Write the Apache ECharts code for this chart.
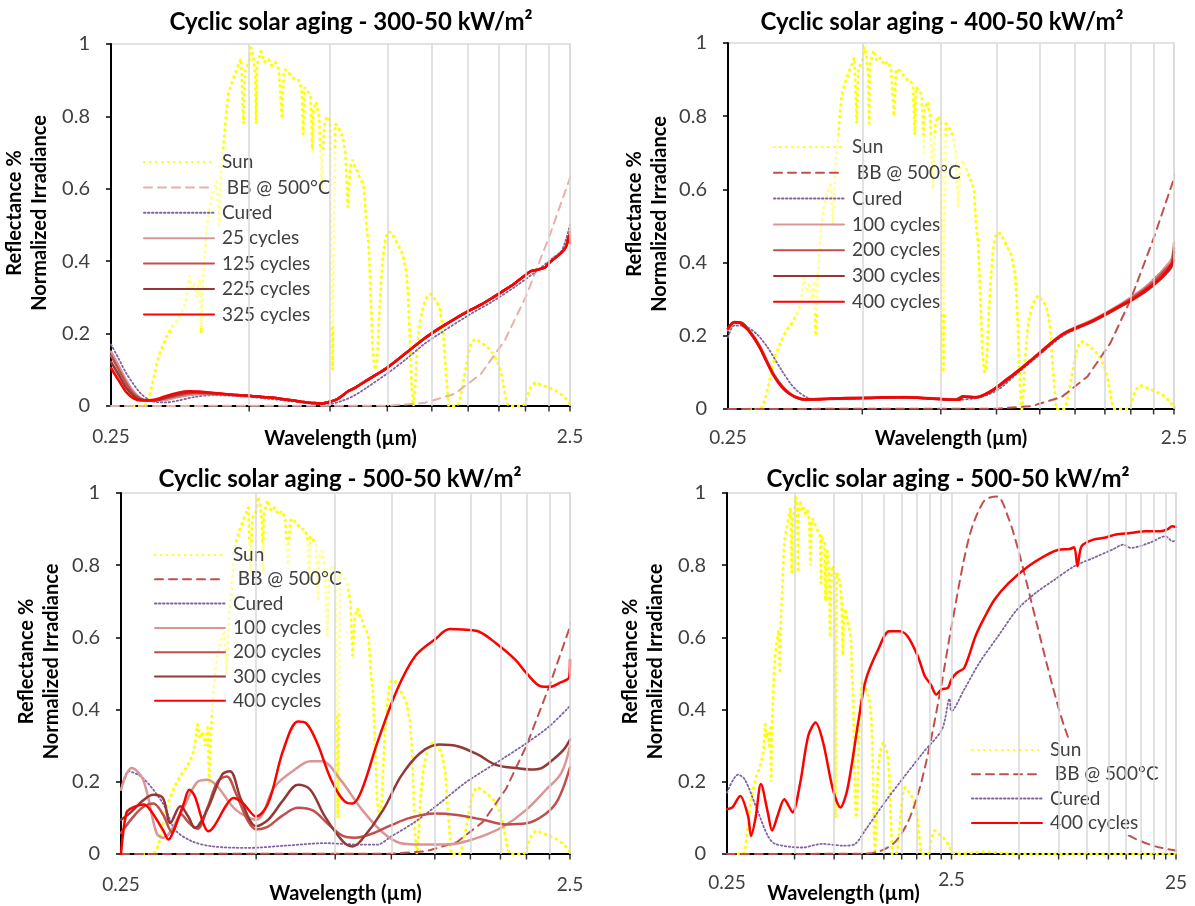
<!DOCTYPE html>
<html lang="en">
<head>
<meta charset="UTF-8">
<title>Cyclic solar aging</title>
<script src="https://cdn.jsdelivr.net/npm/echarts@6/dist/echarts.min.js"></script>
<style>
    html, body { margin: 0; background: #fff; }
    #main { width: 1195px; height: 906px; }
</style>
</head>
<body>
<div id="main"></div>
<script type="text/javascript">
// ---- data: [wavelength (um), value] ----
var sunData = [[0.28,0],[0.295,0],[0.30,0.01],[0.305,0.04],[0.31,0.08],[0.315,0.12],[0.32,0.15],[0.33,0.19],[0.34,0.22],[0.35,0.24],[0.36,0.27],[0.365,0.3],[0.37,0.36],[0.375,0.32],[0.38,0.34],[0.385,0.3],[0.39,0.35],[0.393,0.2],[0.397,0.35],[0.40,0.42],[0.405,0.5],[0.41,0.55],[0.415,0.58],[0.42,0.6],[0.425,0.62],[0.43,0.5],[0.435,0.66],[0.44,0.72],[0.445,0.8],[0.45,0.86],[0.46,0.9],[0.47,0.93],[0.48,0.96],[0.486,0.78],[0.49,0.93],[0.50,0.95],[0.505,0.99],[0.51,0.97],[0.515,0.92],[0.518,0.78],[0.52,0.94],[0.53,0.98],[0.54,0.95],[0.55,0.96],[0.56,0.94],[0.57,0.95],[0.58,0.93],[0.589,0.8],[0.595,0.92],[0.60,0.93],[0.61,0.92],[0.62,0.91],[0.63,0.9],[0.64,0.9],[0.65,0.88],[0.656,0.75],[0.66,0.88],[0.67,0.87],[0.68,0.86],[0.687,0.7],[0.69,0.82],[0.70,0.84],[0.71,0.8],[0.72,0.6],[0.725,0.72],[0.73,0.78],[0.74,0.8],[0.75,0.79],[0.76,0.1],[0.765,0.45],[0.77,0.78],[0.78,0.77],[0.79,0.76],[0.80,0.74],[0.81,0.7],[0.82,0.55],[0.83,0.66],[0.84,0.68],[0.85,0.66],[0.86,0.65],[0.87,0.63],[0.88,0.62],[0.89,0.6],[0.90,0.5],[0.91,0.45],[0.92,0.3],[0.93,0.15],[0.94,0.1],[0.95,0.12],[0.96,0.25],[0.97,0.35],[0.98,0.42],[0.99,0.46],[1.00,0.48],[1.02,0.48],[1.04,0.46],[1.06,0.44],[1.08,0.42],[1.10,0.37],[1.11,0.3],[1.12,0.18],[1.13,0.05],[1.14,0],[1.15,0.05],[1.16,0.14],[1.17,0.2],[1.18,0.24],[1.20,0.28],[1.22,0.3],[1.24,0.31],[1.26,0.3],[1.28,0.29],[1.30,0.27],[1.32,0.22],[1.34,0.1],[1.36,0],[1.42,0],[1.44,0.02],[1.46,0.06],[1.48,0.1],[1.50,0.14],[1.52,0.17],[1.55,0.185],[1.58,0.18],[1.62,0.17],[1.66,0.16],[1.70,0.145],[1.74,0.12],[1.77,0.09],[1.80,0.04],[1.82,0.01],[1.84,0],[1.97,0],[2.0,0.01],[2.03,0.04],[2.06,0.055],[2.1,0.065],[2.15,0.06],[2.2,0.055],[2.25,0.05],[2.3,0.045],[2.35,0.04],[2.4,0.03],[2.45,0.02],[2.5,0.005],[2.6,0],[3.0,0.002],[3.3,0.005],[3.6,0.006],[4.0,0.004],[4.5,0.001],[5,0],[25,0]];

var bbData = [[0.25,0],[1.0,0.001],[1.2,0.008],[1.4,0.033],[1.6,0.089],[1.8,0.18],[2.0,0.3],[2.25,0.466],[2.5,0.63],[3.0,0.879],[3.5,0.979],[4.0,0.99],[4.5,0.928],[5,0.834],[6,0.637],[7,0.472],[8,0.348],[10,0.194],[12,0.114],[15,0.056],[20,0.022],[25,0.01]];

// panel 1: 300-50 kW/m2
var p1Cured = [[0.25,0.17],[0.26,0.13],[0.27,0.09],[0.28,0.06],[0.29,0.035],[0.30,0.02],[0.31,0.012],[0.33,0.01],[0.35,0.015],[0.38,0.025],[0.42,0.03],[0.46,0.028],[0.5,0.025],[0.55,0.02],[0.6,0.015],[0.65,0.01],[0.7,0.006],[0.75,0.006],[0.8,0.015],[0.85,0.03],[0.9,0.05],[1.0,0.09],[1.1,0.13],[1.2,0.17],[1.3,0.2],[1.5,0.25],[1.7,0.29],[1.9,0.33],[2.1,0.37],[2.3,0.41],[2.4,0.43],[2.5,0.5]];
var p1Tail = [[0.46,0.031],[0.5,0.028],[0.55,0.024],[0.6,0.018],[0.65,0.012],[0.69,0.008],[0.72,0.007],[0.75,0.012],[0.78,0.02],[0.8,0.03],[0.82,0.04],[0.85,0.05],[0.9,0.07],[0.95,0.088],[1.0,0.106],[1.1,0.147],[1.2,0.185],[1.3,0.215],[1.4,0.24],[1.5,0.262],[1.6,0.28],[1.7,0.3],[1.8,0.32],[1.9,0.34],[2.0,0.362],[2.05,0.372],[2.1,0.375],[2.2,0.382],[2.25,0.395],[2.3,0.405],[2.4,0.425],[2.45,0.44],[2.49,0.47]];
var p1C25 = [[0.25,0.15],[0.26,0.11],[0.27,0.07],[0.28,0.04],[0.29,0.022],[0.30,0.015],[0.32,0.015],[0.35,0.025],[0.38,0.032],[0.42,0.033]].concat(p1Tail, [[2.5,0.49]]);
var p1C125 = [[0.25,0.14],[0.26,0.1],[0.27,0.062],[0.28,0.034],[0.29,0.02],[0.30,0.015],[0.32,0.018],[0.35,0.029],[0.38,0.036],[0.42,0.034]].concat(p1Tail, [[2.5,0.48]]);
var p1C225 = [[0.25,0.122],[0.26,0.085],[0.27,0.05],[0.28,0.028],[0.29,0.017],[0.31,0.015],[0.33,0.024],[0.35,0.033],[0.37,0.038],[0.39,0.038],[0.42,0.035]].concat(p1Tail, [[2.5,0.47]]);
var p1C325 = [[0.25,0.105],[0.26,0.07],[0.27,0.038],[0.28,0.021],[0.29,0.015],[0.31,0.017],[0.33,0.028],[0.35,0.037],[0.37,0.041],[0.39,0.04],[0.42,0.036]].concat(p1Tail, [[2.5,0.45]]);

// panel 2: 400-50 kW/m2
var p2Cured = [[0.25,0.196],[0.258,0.228],[0.27,0.228],[0.276,0.224],[0.29,0.205],[0.306,0.17],[0.33,0.105],[0.345,0.07],[0.357,0.05],[0.375,0.032],[0.39,0.027],[0.45,0.027],[0.55,0.03],[0.65,0.03],[0.8,0.025],[0.9,0.03],[1.0,0.05],[1.12,0.1],[1.24,0.145],[1.41,0.2],[1.65,0.24],[1.9,0.285],[2.14,0.33],[2.27,0.36],[2.4,0.385],[2.5,0.40]];
var p2C100 = [[0.25,0.215],[0.258,0.235],[0.268,0.235],[0.28,0.212],[0.294,0.175],[0.318,0.092],[0.344,0.043],[0.372,0.027],[0.42,0.029],[0.51,0.031],[0.62,0.033],[0.75,0.028],[0.81,0.026],[0.84,0.035],[0.9,0.033],[0.99,0.056],[1.12,0.106],[1.24,0.151],[1.41,0.207],[1.65,0.245],[1.9,0.287],[2.14,0.33],[2.27,0.357],[2.4,0.39],[2.47,0.41],[2.5,0.455]];
var p2C200 = [[0.25,0.218],[0.258,0.236],[0.268,0.235],[0.28,0.21],[0.294,0.172],[0.318,0.09],[0.344,0.042],[0.372,0.026],[0.42,0.028],[0.51,0.03],[0.62,0.032],[0.75,0.027],[0.81,0.025],[0.84,0.034],[0.9,0.032],[0.99,0.055],[1.12,0.105],[1.24,0.15],[1.41,0.205],[1.65,0.243],[1.9,0.284],[2.14,0.326],[2.27,0.352],[2.4,0.383],[2.47,0.4],[2.5,0.44]];
var p2C300 = [[0.25,0.22],[0.258,0.238],[0.268,0.236],[0.28,0.21],[0.294,0.17],[0.318,0.088],[0.344,0.041],[0.372,0.026],[0.42,0.027],[0.51,0.03],[0.62,0.032],[0.75,0.027],[0.81,0.025],[0.84,0.034],[0.9,0.032],[0.99,0.054],[1.12,0.104],[1.24,0.149],[1.41,0.204],[1.65,0.24],[1.9,0.28],[2.14,0.318],[2.27,0.342],[2.4,0.37],[2.47,0.39],[2.5,0.43]];
var p2C400 = [[0.25,0.22],[0.258,0.237],[0.265,0.236],[0.27,0.228],[0.28,0.21],[0.294,0.17],[0.305,0.13],[0.318,0.087],[0.33,0.06],[0.344,0.041],[0.36,0.03],[0.372,0.026],[0.4,0.026],[0.42,0.028],[0.46,0.03],[0.51,0.03],[0.56,0.032],[0.62,0.032],[0.68,0.03],[0.75,0.027],[0.81,0.025],[0.83,0.026],[0.84,0.034],[0.86,0.033],[0.9,0.032],[0.95,0.042],[0.99,0.055],[1.05,0.08],[1.12,0.105],[1.24,0.15],[1.41,0.205],[1.65,0.242],[1.9,0.283],[2.02,0.3],[2.14,0.322],[2.27,0.345],[2.4,0.375],[2.5,0.406]];

// panel 3: 500-50 kW/m2
var p3Cured = [[0.25,0.178],[0.26,0.229],[0.28,0.21],[0.31,0.14],[0.33,0.067],[0.36,0.035],[0.4,0.021],[0.48,0.017],[0.58,0.023],[0.71,0.03],[0.86,0.026],[0.93,0.026],[1.0,0.049],[1.12,0.086],[1.28,0.14],[1.46,0.197],[1.71,0.252],[2.0,0.307],[2.25,0.354],[2.5,0.41]];
var p3C100 = [[0.25,0.178],[0.264,0.238],[0.28,0.206],[0.30,0.058],[0.31,0.045],[0.34,0.114],[0.37,0.2],[0.39,0.206],[0.41,0.187],[0.45,0.123],[0.5,0.095],[0.55,0.187],[0.61,0.234],[0.66,0.257],[0.7,0.257],[0.77,0.206],[0.86,0.123],[0.96,0.058],[1.05,0.03],[1.16,0.026],[1.28,0.026],[1.41,0.03],[1.59,0.049],[1.78,0.077],[2.0,0.123],[2.21,0.178],[2.39,0.224],[2.5,0.3]];
var p3C200 = [[0.25,0.058],[0.265,0.1],[0.28,0.13],[0.295,0.14],[0.31,0.11],[0.325,0.06],[0.34,0.11],[0.355,0.085],[0.37,0.07],[0.39,0.13],[0.41,0.2],[0.43,0.215],[0.45,0.17],[0.48,0.09],[0.5,0.068],[0.53,0.075],[0.57,0.105],[0.62,0.128],[0.67,0.12],[0.72,0.085],[0.78,0.05],[0.83,0.045],[0.9,0.055],[1.0,0.08],[1.1,0.1],[1.25,0.112],[1.4,0.108],[1.6,0.095],[1.8,0.082],[2.0,0.085],[2.2,0.11],[2.35,0.15],[2.5,0.24]];
var p3C300 = [[0.25,0.095],[0.262,0.114],[0.281,0.15],[0.295,0.164],[0.31,0.155],[0.322,0.086],[0.339,0.132],[0.353,0.104],[0.365,0.072],[0.389,0.123],[0.42,0.22],[0.437,0.229],[0.463,0.15],[0.5,0.077],[0.532,0.095],[0.575,0.15],[0.62,0.192],[0.66,0.178],[0.711,0.104],[0.78,0.035],[0.82,0.021],[0.86,0.04],[0.96,0.123],[1.05,0.215],[1.16,0.28],[1.28,0.303],[1.41,0.298],[1.56,0.275],[1.71,0.247],[1.89,0.238],[2.04,0.234],[2.16,0.238],[2.29,0.261],[2.42,0.289],[2.5,0.317]];
var p3C400 = [[0.25,0],[0.257,0.114],[0.264,0.127],[0.281,0.137],[0.29,0.123],[0.31,0.067],[0.319,0.04],[0.328,0.067],[0.345,0.14],[0.355,0.178],[0.365,0.16],[0.381,0.086],[0.391,0.063],[0.403,0.077],[0.43,0.137],[0.445,0.155],[0.467,0.141],[0.5,0.104],[0.532,0.141],[0.575,0.289],[0.62,0.367],[0.645,0.363],[0.684,0.307],[0.74,0.197],[0.8,0.141],[0.82,0.14],[0.86,0.178],[0.93,0.307],[1.03,0.455],[1.13,0.548],[1.25,0.594],[1.35,0.623],[1.47,0.621],[1.56,0.617],[1.71,0.584],[1.89,0.538],[2.0,0.501],[2.16,0.464],[2.25,0.463],[2.39,0.476],[2.46,0.483],[2.49,0.49],[2.5,0.538]];

// panel 4: 500-50 kW/m2, 0.25-25 um
var p4Cured = [[0.25,0.17],[0.28,0.22],[0.3,0.207],[0.34,0.124],[0.38,0.05],[0.41,0.028],[0.54,0.018],[0.66,0.028],[0.83,0.023],[0.93,0.028],[1.04,0.069],[1.26,0.143],[1.53,0.212],[1.87,0.281],[2.27,0.346],[2.45,0.43],[2.5,0.396],[2.85,0.456],[3.33,0.53],[4.04,0.604],[4.9,0.677],[5.95,0.724],[7.2,0.76],[8.8,0.797],[10.7,0.82],[13,0.843],[14.6,0.857],[15.7,0.848],[19.1,0.862],[22.4,0.88],[24.2,0.866],[25,0.871]];
var p4C400 = [[0.25,0.124],[0.264,0.129],[0.286,0.161],[0.31,0.106],[0.32,0.05],[0.335,0.1],[0.354,0.194],[0.38,0.115],[0.397,0.065],[0.42,0.106],[0.45,0.152],[0.47,0.134],[0.49,0.115],[0.53,0.198],[0.575,0.327],[0.62,0.364],[0.67,0.309],[0.74,0.18],[0.8,0.129],[0.86,0.18],[0.97,0.382],[1.04,0.484],[1.18,0.567],[1.32,0.617],[1.47,0.617],[1.59,0.604],[1.77,0.548],[1.9,0.493],[2.02,0.47],[2.14,0.442],[2.26,0.456],[2.41,0.46],[2.5,0.484],[2.64,0.502],[2.85,0.516],[3.2,0.604],[3.47,0.65],[3.89,0.705],[4.5,0.751],[5.5,0.797],[6.7,0.83],[7.5,0.843],[8.4,0.845],[8.8,0.85],[9.1,0.797],[9.5,0.853],[10.7,0.871],[12,0.876],[13.5,0.885],[15.7,0.889],[18.3,0.894],[21.3,0.894],[23,0.9],[24,0.908],[25,0.906]];

// vertical grid lines and x tick labels
var gridLinesA = [0.5,0.75,1,1.25,1.5,1.75,2,2.25,2.5];
var gridLinesB = [0.5,0.75,1,1.25,1.5,1.75,2,2.25,2.5,5,7.5,10,12.5,15,17.5,20,22.5,25];
var xLabelsA = [0.25, 2.5];
var xLabelsB = [0.25, 25];
var xLabelsMid = [2.5];     // label in the middle of the wide axis, hung on its grid line

var titles = ['Cyclic solar aging - 300-50 kW/m²', 'Cyclic solar aging - 400-50 kW/m²',
              'Cyclic solar aging - 500-50 kW/m²', 'Cyclic solar aging - 500-50 kW/m²'];

var FONT = 'Lato, "Liberation Sans", sans-serif';
var cSun = '#FFFF00', cCured = '#8064A2';
var cLight = '#D99694', cMid = '#C0504D', cDark = '#953735', cRed = '#FF0000';

var myChart = echarts.init(document.getElementById('main'));

var grids = [
    {left: 111, top: 44, width: 459, height: 362},
    {left: 728, top: 43, width: 446, height: 366},
    {left: 121, top: 493, width: 449, height: 361},
    {left: 727, top: 493, width: 449, height: 361}
];
var titlePos = [[351, 22], [942, 22], [340, 479], [948, 479]];
var yNameGap = [59, 56, 57, 59];
var xNameGap = [23, 20, 30, 30];
var xLabelMargin = [21, 19, 21, 19];

function lineSeries(gi, key, label, data, color, dash, width, smooth) {
    return {
        name: key + '|' + label,
        type: 'line',
        xAxisIndex: gi,
        yAxisIndex: gi,
        data: data,
        symbol: 'none',
        showSymbol: false,
        smooth: smooth || false,
        animation: false,
        lineStyle: {color: color, width: width, type: dash, cap: 'round'},
        itemStyle: {color: color, opacity: 0},
        z: 3
    };
}

function gridLineSeries(gi, vals, labelled) {
    labelled = labelled || [];
    return {
        type: 'line',
        xAxisIndex: gi,
        yAxisIndex: gi,
        data: [],
        z: 1,
        silent: true,
        animation: false,
        markLine: {
            silent: true,
            animation: false,
            symbol: ['none', 'none'],
            label: {show: false},
            lineStyle: {color: '#d9d9d9', width: 1.5, type: 'solid'},
            data: vals.map(function (v) {
                var item = {xAxis: v};
                if (labelled.indexOf(v) >= 0) {
                    item.label = {show: true, position: 'start', formatter: String(v), distance: 16,
                                  fontSize: 19, color: '#404040', fontFamily: FONT};
                }
                return item;
            })
        }
    };
}

// small tick marks under the x axis at each grid line
function tickSeries(gi, vals) {
    return {
        type: 'scatter',
        xAxisIndex: gi,
        yAxisIndex: gi,
        data: vals.map(function (v) { return [v, 0]; }),
        symbol: 'rect',
        symbolSize: [1.5, 5],
        symbolOffset: [0, 3],
        itemStyle: {color: '#000'},
        clip: false,
        silent: true,
        animation: false,
        z: 5
    };
}

var SUN = [0.5, 5.5], DOT = [1.5, 2.5], DASH = [8, 6];

var series = [
    gridLineSeries(0, gridLinesA),
    tickSeries(0, gridLinesA),
    lineSeries(0, 'a', 'Sun', sunData, cSun, SUN, 3),
    lineSeries(0, 'a', ' BB @ 500°C', bbData, '#E6B0AC', DASH, 2),
    lineSeries(0, 'a', 'Cured', p1Cured, cCured, DOT, 1.8, 0.3),
    lineSeries(0, 'a', '25 cycles', p1C25, cLight, 'solid', 2.5, 0.3),
    lineSeries(0, 'a', '125 cycles', p1C125, cMid, 'solid', 2.5, 0.3),
    lineSeries(0, 'a', '225 cycles', p1C225, cDark, 'solid', 2.5, 0.3),
    lineSeries(0, 'a', '325 cycles', p1C325, cRed, 'solid', 2.5, 0.3),

    gridLineSeries(1, gridLinesA),
    tickSeries(1, gridLinesA),
    lineSeries(1, 'b', 'Sun', sunData, cSun, SUN, 3),
    lineSeries(1, 'b', ' BB @ 500°C', bbData, cMid, DASH, 2),
    lineSeries(1, 'b', 'Cured', p2Cured, cCured, DOT, 1.8, 0.3),
    lineSeries(1, 'b', '100 cycles', p2C100, cLight, 'solid', 2.5, 0.3),
    lineSeries(1, 'b', '200 cycles', p2C200, cMid, 'solid', 2.5, 0.3),
    lineSeries(1, 'b', '300 cycles', p2C300, cDark, 'solid', 2.5, 0.3),
    lineSeries(1, 'b', '400 cycles', p2C400, cRed, 'solid', 2.5, 0.3),

    gridLineSeries(2, gridLinesA),
    tickSeries(2, gridLinesA),
    lineSeries(2, 'c', 'Sun', sunData, cSun, SUN, 3),
    lineSeries(2, 'c', ' BB @ 500°C', bbData, cMid, DASH, 2),
    lineSeries(2, 'c', 'Cured', p3Cured, cCured, DOT, 1.8, 0.3),
    lineSeries(2, 'c', '100 cycles', p3C100, cLight, 'solid', 2.5, 0.35),
    lineSeries(2, 'c', '200 cycles', p3C200, cMid, 'solid', 2.5, 0.35),
    lineSeries(2, 'c', '300 cycles', p3C300, cDark, 'solid', 2.5, 0.35),
    lineSeries(2, 'c', '400 cycles', p3C400, cRed, 'solid', 2.5, 0.35),

    gridLineSeries(3, gridLinesB, xLabelsMid),
    tickSeries(3, gridLinesB),
    lineSeries(3, 'd', 'Sun', sunData, cSun, SUN, 3),
    lineSeries(3, 'd', ' BB @ 500°C', bbData, cMid, DASH, 2, 0.3),
    lineSeries(3, 'd', 'Cured', p4Cured, cCured, DOT, 1.8, 0.3),
    lineSeries(3, 'd', '400 cycles', p4C400, cRed, 'solid', 2.5, 0.3)
];

function legendNames(key, labels) {
    return labels.map(function (l) { return key + '|' + l; });
}

function makeLegend(left, top, gap, names, bg) {
    return {
        orient: 'vertical',
        left: left,
        top: top,
        itemWidth: 70,
        itemHeight: 20,
        itemGap: gap,
        padding: [2, 6, 2, 0],
        backgroundColor: bg,
        selectedMode: false,
        itemStyle: {opacity: 0},
        textStyle: {fontSize: 19, color: '#404040', fontFamily: FONT, lineHeight: 20, padding: [0, 0, 0, 3]},
        formatter: function (n) { return n.split('|')[1]; },
        data: names
    };
}

var legends = [
    makeLegend(143, 150, 5.4, legendNames('a', ['Sun', ' BB @ 500°C', 'Cured', '25 cycles', '125 cycles', '225 cycles', '325 cycles']), 'rgba(255,255,255,0.6)'),
    makeLegend(773, 135, 5.8, legendNames('b', ['Sun', ' BB @ 500°C', 'Cured', '100 cycles', '200 cycles', '300 cycles', '400 cycles']), 'rgba(255,255,255,0.6)'),
    makeLegend(154, 543, 4.3, legendNames('c', ['Sun', ' BB @ 500°C', 'Cured', '100 cycles', '200 cycles', '300 cycles', '400 cycles']), 'rgba(255,255,255,0.6)'),
    makeLegend(971, 738, 4.3, legendNames('d', ['Sun', ' BB @ 500°C', 'Cured', '400 cycles']), '#ffffff')
];

function labelFilter(list) {
    return function (v) {
        for (var i = 0; i < list.length; i++) {
            if (Math.abs(v - list[i]) < 1e-6) return String(list[i]);
        }
        return '';
    };
}

var xAxes = [], yAxes = [];
for (var i = 0; i < 4; i++) {
    var wide = (i === 3);
    xAxes.push({
        type: 'log',
        logBase: 10,
        gridIndex: i,
        min: 0.25,
        max: wide ? 25 : 2.5,
        axisLine: {show: true, onZero: false, lineStyle: {color: '#000', width: 2}},
        axisTick: {show: false},
        splitLine: {show: false},
        axisLabel: {fontSize: 19, color: '#404040', fontFamily: FONT, margin: xLabelMargin[i],
                    showMinLabel: true, showMaxLabel: true, hideOverlap: false,
                    formatter: labelFilter(wide ? xLabelsB : xLabelsA)},
        name: 'Wavelength (µm)',
        nameLocation: 'middle',
        nameGap: xNameGap[i],
        nameMoveOverlap: false,
        nameTextStyle: {fontWeight: 'bold', fontSize: 20, color: '#000', fontFamily: FONT,
                        padding: wide ? [0, 216, 0, 0] : 0}
    });
    yAxes.push({
        type: 'value',
        gridIndex: i,
        min: 0,
        max: 1,
        interval: 0.2,
        axisLine: {show: true, lineStyle: {color: '#000', width: 2}},
        axisTick: {show: true, length: 5, lineStyle: {color: '#000', width: 1.5}},
        splitLine: {show: false},
        axisLabel: {fontSize: 20, color: '#404040', fontFamily: FONT, margin: 21},
        name: 'Reflectance %\nNormalized Irradiance',
        nameLocation: 'middle',
        nameGap: yNameGap[i],
        nameMoveOverlap: false,
        nameTextStyle: {fontWeight: 'bold', fontSize: 20, color: '#000', fontFamily: FONT,
                        lineHeight: 25, padding: [0, 0, 0, 24]}
    });
}

var titleGraphics = titles.map(function (t, k) {
    return {
        type: 'text',
        x: titlePos[k][0],
        y: titlePos[k][1],
        silent: true,
        style: {text: t, fill: '#000', font: 'bold 24px ' + FONT,
                align: 'center', verticalAlign: 'middle',
                textAlign: 'center', textVerticalAlign: 'middle'}
    };
});

var option = {
    backgroundColor: '#fff',
    animation: false,
    textStyle: {fontFamily: FONT},
    grid: grids.map(function (g) {
        return {left: g.left, top: g.top, width: g.width, height: g.height,
                show: true, borderColor: '#d9d9d9', borderWidth: 1.5,
                containLabel: false, outerBoundsMode: 'none'};
    }),
    xAxis: xAxes,
    yAxis: yAxes,
    legend: legends,
    graphic: titleGraphics,
    series: series
};

myChart.setOption(option);
</script>
</body>
</html>
